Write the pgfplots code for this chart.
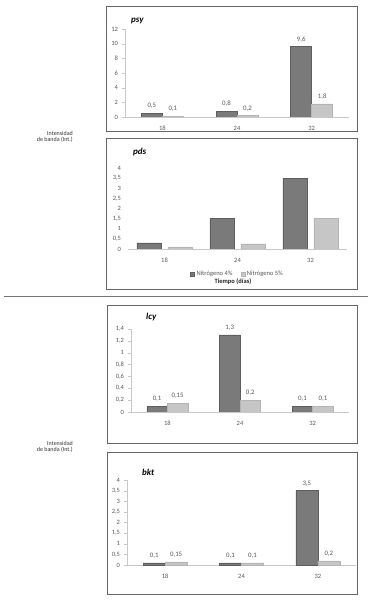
\documentclass[border=0pt]{standalone}
\usepackage{fontspec}
\setmainfont{Carlito}
\usepackage{pgfplots}
\pgfplotsset{compat=1.18}
\definecolor{dk}{HTML}{7A7A7A}
\definecolor{dkb}{HTML}{5E5E5E}
\definecolor{lt}{HTML}{C6C6C6}
\definecolor{ltb}{HTML}{B4B4B4}
\definecolor{txt}{HTML}{595959}
\definecolor{axc}{HTML}{C8C8C8}
\definecolor{frm}{HTML}{666666}
\pgfplotsset{
 mybar/.style={
  scale only axis, anchor=south west,
  xmin=-0.5, xmax=2.5, ymin=0,
  xtick={0,1,2}, xticklabels={18,24,32},
  axis x line*=bottom, axis y line*=left,
  x axis line style={draw=axc, line width=0.8pt},
  y axis line style={draw=axc, line width=0.6pt},
  major x tick style={draw=none},
  major y tick style={draw=axc},
  tick align=outside, major tick length=3.5pt,
  ticklabel style={font=\fontsize{6.5}{7}\selectfont, text=txt},
  xticklabel style={yshift=-2.5pt},
  /pgf/number format/.cd, use comma, assume math mode=true, 1000 sep={},
  /pgfplots/.cd,
  ybar=0pt,
  every node near coord/.append style={font=\fontsize{6.8}{7}\selectfont, text=txt, yshift=1pt},
 },
 dkbar/.style={fill=dk, draw=dkb, line width=0.4pt},
 ltbar/.style={fill=lt, draw=ltb, line width=0.4pt},
}
\begin{document}
\begin{tikzpicture}
\fill[white] (0pt,0pt) rectangle (368pt,600pt);
\useasboundingbox (0pt,0pt) rectangle (368pt,600pt);
% frames
\draw[frm, line width=0.9pt] (106pt,594pt) rectangle (357pt,468.3pt);
\draw[frm, line width=0.9pt] (106pt,461.7pt) rectangle (357pt,311pt);
\draw[frm, line width=0.9pt] (107pt,295pt) rectangle (357pt,156.7pt);
\draw[frm, line width=0.9pt] (107pt,147.3pt) rectangle (357pt,5.7pt);
\draw[black!55, line width=0.5pt] (4pt,304pt) -- (368pt,304pt);
% side labels
\node[anchor=east, font=\fontsize{6}{7}\selectfont, text=black!80, inner sep=0pt] at (73pt,467pt) {Intensidad};
\node[anchor=east, font=\fontsize{6}{7}\selectfont, text=black!80, inner sep=0pt] at (73pt,460pt) {de banda (Int.)};
\node[anchor=east, font=\fontsize{6}{7}\selectfont, text=black!80, inner sep=0pt] at (73pt,157pt) {Intensidad};
\node[anchor=east, font=\fontsize{6}{7}\selectfont, text=black!80, inner sep=0pt] at (73pt,150pt) {de banda (Int.)};
% titles
\node[anchor=west, font=\fontsize{9}{10}\selectfont\bfseries\itshape, inner sep=0pt] at (131pt,579.3pt) {psy};
\node[anchor=west, font=\fontsize{9}{10}\selectfont\bfseries\itshape, inner sep=0pt] at (133pt,448.3pt) {pds};
\node[anchor=west, font=\fontsize{9}{10}\selectfont\bfseries\itshape, inner sep=0pt] at (146pt,283.3pt) {lcy};
\node[anchor=west, font=\fontsize{9}{10}\selectfont\bfseries\itshape, inner sep=0pt] at (142pt,128pt) {bkt};
% psy
\begin{axis}[mybar, at={(125pt,483pt)}, width=224pt, height=88pt,
  ymax=12, ytick={0,2,...,12}, bar width=21pt, nodes near coords]
\addplot[dkbar] coordinates {(0,0.5) (1,0.8) (2,9.6)};
\addplot[ltbar] coordinates {(0,0.1) (1,0.2) (2,1.8)};
\end{axis}
% pds
\begin{axis}[mybar, at={(128pt,351pt)}, width=219pt, height=81pt,
  ymax=4, ytick={0,0.5,...,4}, bar width=24.5pt, ybar=6.5pt,
  y axis line style={draw=none}, major y tick style={draw=none},
  legend image code/.code={\fill[#1] (0pt,-2pt) rectangle (4pt,2pt);},
  legend style={at={(0.5,-0.31)}, anchor=center, draw=none, fill=none,
    font=\fontsize{6.5}{7}\selectfont, text=txt, legend columns=2,
    /tikz/every even column/.append style={column sep=6pt}},
  legend cell align=left]
\addplot[dkbar] coordinates {(0,0.3) (1,1.5) (2,3.5)};
\addplot[ltbar] coordinates {(0,0.1) (1,0.25) (2,1.5)};
\legend{Nitrógeno 4\%, Nitrógeno 5\%}
\end{axis}
\node[font=\fontsize{6.5}{7}\selectfont\bfseries, text=black!85] at (233pt,318pt) {Tiempo (días)};
% lcy
\begin{axis}[mybar, at={(131pt,188pt)}, width=218pt, height=83pt,
  ymax=1.4, ytick={0,0.2,...,1.41}, bar width=20.5pt, nodes near coords]
\addplot[dkbar] coordinates {(0,0.1) (1,1.3) (2,0.1)};
\addplot[ltbar] coordinates {(0,0.15) (1,0.2) (2,0.1)};
\end{axis}
% bkt
\begin{axis}[mybar, at={(127pt,35pt)}, width=229pt, height=85pt,
  ymax=4, ytick={0,0.5,...,4}, bar width=22pt, nodes near coords]
\addplot[dkbar] coordinates {(0,0.1) (1,0.1) (2,3.5)};
\addplot[ltbar] coordinates {(0,0.15) (1,0.1) (2,0.2)};
\end{axis}
\end{tikzpicture}
\end{document}
